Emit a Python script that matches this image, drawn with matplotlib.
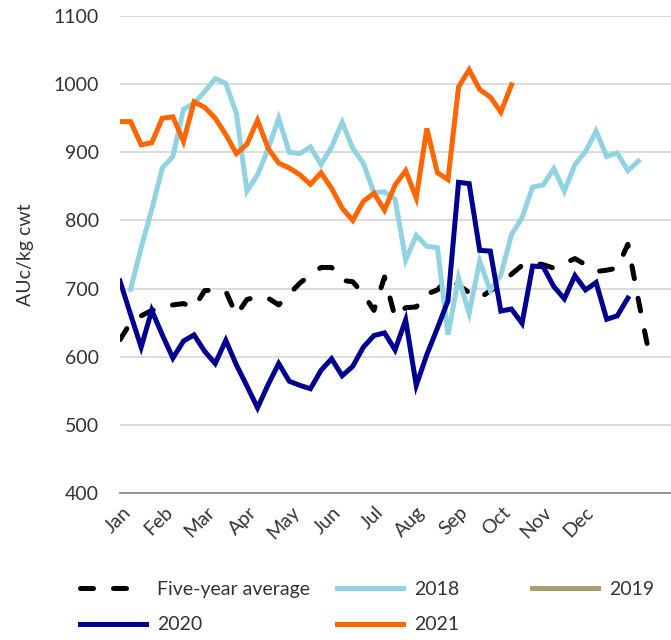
import numpy as np
import matplotlib
matplotlib.use("Agg")
import matplotlib.pyplot as plt

plt.rcParams["font.family"] = ["Lato", "DejaVu Sans"]

# ============================================================
# Data (weekly prices, AUc/kg cwt)
# ============================================================

months = ["Jan", "Feb", "Mar", "Apr", "May", "Jun",
          "Jul", "Aug", "Sep", "Oct", "Nov", "Dec"]
# week index where each month label sits on the category axis
month_week = [0.75, 4.7, 8.7, 12.7, 16.7, 20.6,
              24.6, 28.6, 32.6, 36.6, 40.5, 44.5]

five_year_avg = [625, 650, 660, 668, 671, 676, 678, 672, 697, 698, 696, 661,
                 684, 688, 686, 676, 692, 708, 720, 731, 731, 712, 710, 692,
                 668, 717, 658, 672, 673, 692, 698, 715, 705, 694, 686, 697,
                 706, 721, 734, 738, 735, 730, 737, 744, 735, 725, 727, 730,
                 765, 683, 605]

# 2018 has no value for the first week
y2018 = [np.nan, 699, 760, 816, 877, 894, 963, 972, 989, 1008, 1001, 957,
         843, 867, 905, 950, 900, 898, 908, 882, 908, 944, 906, 884,
         841, 842, 831, 742, 778, 762, 760, 632, 716, 664, 740, 697,
         720, 779, 804, 849, 852, 876, 843, 882, 901, 931, 894, 899,
         873, 887]

y2019 = []

y2020 = [711, 662, 614, 668, 632, 598, 623, 632, 608, 590, 624, 588,
         557, 525, 559, 590, 564, 558, 553, 580, 597, 572, 586, 614,
         631, 635, 610, 654, 558, 603, 642, 682, 856, 854, 756, 755,
         667, 670, 649, 733, 732, 703, 685, 719, 698, 709, 655, 660,
         686]

y2021 = [945, 945, 911, 914, 950, 952, 916, 974, 966, 950, 926, 898,
         912, 947, 906, 884, 877, 867, 853, 870, 847, 818, 800, 828,
         840, 815, 852, 873, 833, 935, 870, 860, 996, 1021, 992, 981,
         959, 999]

# ============================================================
# Styles
# ============================================================

C_FIVE = "#000000"
C_2018 = "#92D3E3"
C_2019 = "#AB9C70"
C_2020 = "#00008F"
C_2021 = "#FF6600"
LW = 3.6
TEXT = "#333333"

fig = plt.figure(figsize=(6.71, 6.40), dpi=100)
ax = fig.add_axes([120 / 671, 1 - 493 / 640, 551 / 671, 477 / 640])

h_five, = ax.plot(np.arange(len(five_year_avg)), five_year_avg, color=C_FIVE,
                  lw=LW, linestyle=(0, (2.6, 4.0)), dash_capstyle="round",
                  label="Five-year average")
h18, = ax.plot(np.arange(len(y2018)), y2018, color=C_2018, lw=LW,
               solid_joinstyle="miter", label="2018")
h19, = ax.plot(np.arange(len(y2019)), y2019, color=C_2019, lw=LW, label="2019")
h20, = ax.plot(np.arange(len(y2020)), y2020, color=C_2020, lw=LW,
               solid_joinstyle="miter", label="2020")
h21, = ax.plot(np.arange(len(y2021)), y2021, color=C_2021, lw=LW,
               solid_joinstyle="miter", label="2021")

ax.set_xlim(0, 52.08)
ax.set_ylim(400, 1100)
ax.set_yticks(range(400, 1101, 100))
ax.grid(axis="y", color="#D9D9D9", lw=1.3)
ax.set_axisbelow(True)

for side in ["left", "right", "top"]:
    ax.spines[side].set_visible(False)
ax.spines["bottom"].set_color("#8C8C8C")
ax.spines["bottom"].set_linewidth(1.3)

ax.tick_params(axis="y", length=0, pad=15, labelsize=14, labelcolor=TEXT)
ax.tick_params(axis="x", length=0, pad=12, labelsize=14, labelcolor=TEXT)

ax.set_xticks(month_week)
ax.set_xticklabels(months, rotation=45, ha="right", va="center",
                   rotation_mode="anchor")

fig.text(25 / 671, 1 - 255 / 640, "AUc/kg cwt", rotation=90,
         ha="center", va="center", fontsize=14, color=TEXT)

# ============================================================
# Legend (three columns placed separately)
# ============================================================

leg_kw = dict(frameon=False, fontsize=14, handlelength=3.4,
              handletextpad=0.55, labelspacing=0.95, borderpad=0,
              borderaxespad=0, loc="upper left", labelcolor=TEXT)

fig.legend([h_five, h20], ["Five-year average", "2020"],
           bbox_to_anchor=(80 / 671, 1 - 581 / 640), **leg_kw)
fig.legend([h18, h21], ["2018", "2021"],
           bbox_to_anchor=(337 / 671, 1 - 581 / 640), **leg_kw)
fig.legend([h19], ["2019"],
           bbox_to_anchor=(532 / 671, 1 - 581 / 640), **leg_kw)

fig.savefig("out.png", dpi=100)
